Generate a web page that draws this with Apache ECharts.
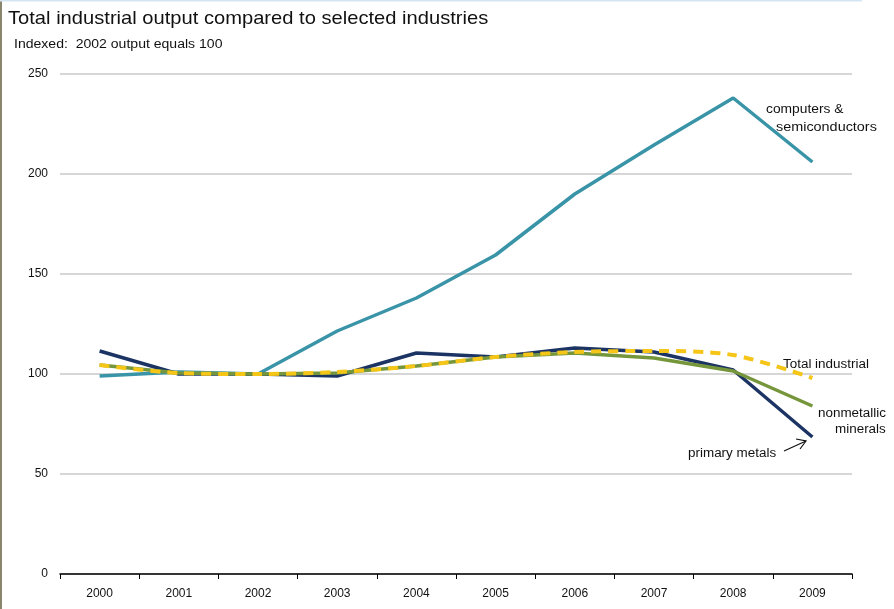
<!DOCTYPE html>
<html>
<head>
<meta charset="utf-8">
<script src="https://cdn.jsdelivr.net/npm/echarts@6/dist/echarts.min.js"></script>
<style>
html,body{margin:0;padding:0;background:#fff;}
#c{width:894px;height:609px;}
</style>
</head>
<body>
<div id="c"></div>
<script>
var years = ['2000','2001','2002','2003','2004','2005','2006','2007','2008','2009'];
var computers = [99, 101, 100, 121.5, 138, 159.5, 190, 214.5, 238, 206];
var primaryMetals = [111.5, 100, 100, 99, 110.5, 108.5, 113, 111, 102, 68.5];
var nonmetallic = [104.5, 100.5, 100, 100.5, 104, 108.5, 110.5, 108, 101.5, 84];
var totalIndustrial = [104.5, 100.5, 100, 101, 104, 108.5, 111, 111.5, 109.5, 98];
var yTicks = [0, 50, 100, 150, 200, 250];

var chart = echarts.init(document.getElementById('c'));
var font = 'Arial, "Liberation Sans", sans-serif';
function txt(s, x, y, size, sx) {
  return {type: 'text', x: x, y: y, scaleX: sx || 1.15, silent: true,
    style: {text: s, fontFamily: font, fontSize: size, fill: '#111', textVerticalAlign: 'top'}};
}
chart.setOption({
  animation: false,
  backgroundColor: '#fff',
  grid: {left: 60, right: 42, top: 74, bottom: 35, containLabel: false},
  xAxis: {
    type: 'category', data: years, boundaryGap: true,
    axisLine: {lineStyle: {color: '#000', width: 1.5}},
    axisTick: {show: true, alignWithLabel: false, length: 5, lineStyle: {color: '#000'}},
    axisLabel: {fontFamily: font, fontSize: 12, color: '#111', margin: 14},
    splitLine: {show: false}
  },
  yAxis: {
    type: 'value', min: yTicks[0], max: yTicks[yTicks.length - 1], interval: 50,
    axisLine: {show: false}, axisTick: {show: false},
    axisLabel: {fontFamily: font, fontSize: 12, color: '#111', margin: 12},
    splitLine: {lineStyle: {color: '#c8c8c8', width: 1.5}}
  },
  series: [
    {name: 'computers & semiconductors', type: 'line', data: computers, symbol: 'none',
     lineStyle: {color: '#3a94a8', width: 3.5}, z: 2},
    {name: 'primary metals', type: 'line', data: primaryMetals, symbol: 'none',
     lineStyle: {color: '#1c3463', width: 3.5}, z: 3},
    {name: 'nonmetallic minerals', type: 'line', data: nonmetallic, symbol: 'none',
     lineStyle: {color: '#76963c', width: 3.5}, z: 4},
    {name: 'Total industrial', type: 'line', data: totalIndustrial, symbol: 'none', smooth: 0.3,
     lineStyle: {color: '#f5c518', width: 4, type: [10, 7]}, z: 5}
  ],
  graphic: [
    {type: 'rect', shape: {x: 0, y: 0, width: 2, height: 609}, style: {fill: '#8a866e'}, silent: true},
    {type: 'rect', shape: {x: 0, y: 0, width: 862, height: 1.5}, style: {fill: '#d5e6f2'}, silent: true},
    txt('Total industrial output compared to selected industries', 8, 9, 19, 1.06),
    txt('Indexed:  2002 output equals 100', 14, 39, 12, 1.17),
    txt('computers &', 766, 104, 12, 1.15),
    txt('semiconductors', 776, 122, 12, 1.2),
    txt('Total industrial', 783, 359, 12, 1.12),
    txt('nonmetallic', 818, 408, 12, 1.12),
    txt('minerals', 835, 424, 12, 1.12),
    txt('primary metals', 688, 448, 12, 1.12),
    {type: 'line', shape: {x1: 784, y1: 451, x2: 806, y2: 441}, style: {stroke: '#111', lineWidth: 1.2}},
    {type: 'polyline', shape: {points: [[796, 439], [806, 441], [800, 449]]}, style: {stroke: '#111', fill: null, lineWidth: 1.2}}
  ]
});
</script>
</body>
</html>
